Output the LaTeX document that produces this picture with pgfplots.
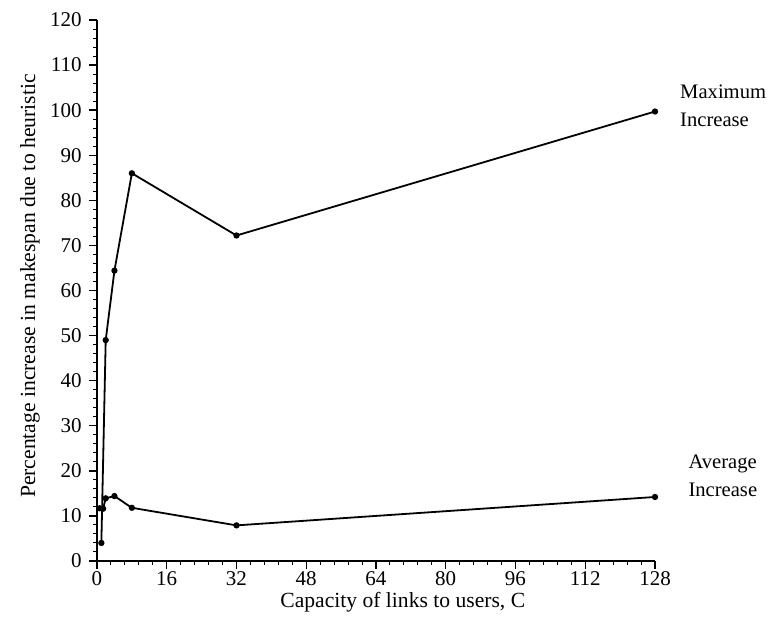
\documentclass[border=0pt]{standalone}
\usepackage{fontspec}
\setmainfont{Liberation Serif}
\usepackage{pgfplots}
\pgfplotsset{compat=1.18}
\begin{document}
\fontsize{10.5}{12.6}\selectfont
\begin{tikzpicture}
\begin{axis}[
  scale only axis, width=279pt, height=270.5pt,
  xmin=0, xmax=128, ymin=0, ymax=120,
  axis lines=left, axis line style={-, line width=0.8pt},
  xtick={0,16,...,128}, ytick={0,10,...,120},
  minor x tick num=4, minor y tick num=4,
  tick align=outside, major tick length=4pt, minor tick length=2pt,
  major tick style={line width=0.7pt, black},
  minor tick style={line width=0.5pt, black},
  /pgf/number format/assume math mode=true,
  ticklabel style={font=\fontsize{10.5}{12}\selectfont},
  xticklabel style={yshift=2.5pt},
  xlabel={Capacity of links to users, C},
  ylabel={Percentage increase in makespan due to heuristic},
  label style={font=\fontsize{10.8}{13}\selectfont},
  xlabel style={at={(axis description cs:0.548,-0.076)}, anchor=center},
  ylabel style={at={(axis description cs:-0.12,0.508)}, anchor=center},
  clip=false,
]
\addplot[black, line width=0.9pt, mark=*, mark size=1.1pt] coordinates {
  (1,4.0) (2,49) (4,64.4) (8,86) (32,72.2) (128,99.7)
};
\addplot[black, line width=0.9pt, mark=*, mark size=1.1pt] coordinates {
  (0.6,11.7) (1.4,11.6) (2,13.9) (4,14.4) (8,11.8) (32,7.9) (128,14.2)
};
\node[anchor=west, align=left, inner sep=0pt, font=\fontsize{10.3}{14}\selectfont] at (axis cs:133.7,100.9) {Maximum\\Increase};
\node[anchor=west, align=left, inner sep=0pt, font=\fontsize{10.3}{14}\selectfont] at (axis cs:135.6,18.9) {Average\\Increase};
\end{axis}
\path[use as bounding box] (-48.5pt,-38.5pt) rectangle (335.5pt,280.5pt);
\end{tikzpicture}
\end{document}
